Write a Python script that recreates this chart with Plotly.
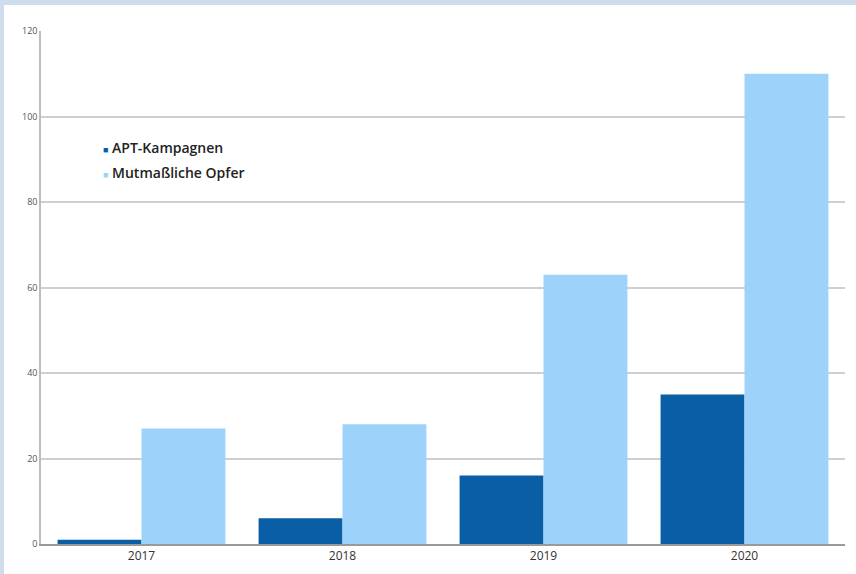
import plotly.graph_objects as go

years = ["2017", "2018", "2019", "2020"]
apt_kampagnen = [1, 6, 16, 35]
opfer = [27, 28, 63, 110]
y_ticks = [0, 20, 40, 60, 80, 100, 120]
names = ["APT-Kampagnen", "Mutmaßliche Opfer"]
colors = ["#0a5ea6", "#9dd3fa"]

W, H = 856, 574
L, R, T, B = 41, 11, 31, 30
pw, ph = W - L - R, H - T - B

def px(x):
    return (x - L) / pw

def py(y):
    return (H - B - y) / ph

fig = go.Figure()
fig.add_trace(go.Bar(x=years, y=apt_kampagnen, name=names[0],
                     marker=dict(color=colors[0], line=dict(width=0))))
fig.add_trace(go.Bar(x=years, y=opfer, name=names[1],
                     marker=dict(color=colors[1], line=dict(width=0))))

annotations = []
for i, (n, c) in enumerate(zip(names, colors)):
    annotations.append(dict(
        xref="paper", yref="paper", x=px(101), y=py(147 + 25 * i),
        xanchor="left", yanchor="middle", showarrow=False,
        text=f'<span style="color:{c};font-size:9px">■</span> {n}',
        font=dict(family="Open Sans, Arial, sans-serif", size=14,
                  color="#222", weight=600)))

fig.update_layout(
    width=W, height=H,
    margin=dict(l=L, r=R, t=T, b=B),
    paper_bgcolor="white", plot_bgcolor="white",
    barmode="group", bargap=0.165, bargroupgap=0,
    showlegend=False,
    font=dict(family="Open Sans, Arial, sans-serif", color="#333"),
    annotations=annotations,
    shapes=[
        dict(type="rect", xref="paper", yref="paper", layer="below",
             x0=px(0), x1=px(W), y0=py(0), y1=py(5),
             fillcolor="#cfdcec", line=dict(width=0)),
        dict(type="rect", xref="paper", yref="paper", layer="below",
             x0=px(0), x1=px(4), y0=py(0), y1=py(H),
             fillcolor="#cfdcec", line=dict(width=0)),
    ],
)
fig.update_yaxes(range=[0, 120], tickvals=y_ticks, showgrid=True,
                 gridcolor="#cfcfcf", gridwidth=1.5, showline=True,
                 linecolor="#bdbdbd", linewidth=1.5, zeroline=False,
                 tickfont=dict(size=9, color="#555"), ticks="")
fig.update_xaxes(showline=True, linecolor="#9a9a9a", linewidth=1.5,
                 tickfont=dict(size=12, color="#333"), ticks="")

fig.write_html("out.html",
               config={"displayModeBar": False},
               post_script="document.body.style.margin='0';document.body.style.padding='0';"
                           "document.body.style.overflow='hidden';"
                           "document.documentElement.style.overflow='hidden';")
